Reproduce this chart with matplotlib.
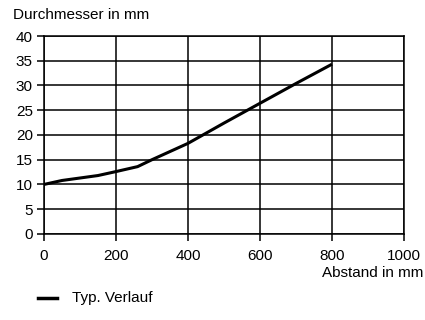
import matplotlib.pyplot as plt

plt.rcParams['font.family'] = ['Liberation Sans', 'DejaVu Sans']

# Abstand (mm) und Durchmesser (mm)
abstand = [0, 50, 150, 200, 260, 300, 400, 500, 600, 700, 800]
durchmesser = [10, 10.8, 11.8, 12.6, 13.6, 15, 18.3, 22.4, 26.4, 30.4, 34.3]
x_ticks = [0, 200, 400, 600, 800, 1000]
y_ticks = [0, 5, 10, 15, 20, 25, 30, 35, 40]

fig = plt.figure(figsize=(4.25, 3.2), dpi=100)
ax = fig.add_axes([0.1035, 0.269, 0.847, 0.6185])

ax.plot(abstand, durchmesser, color='black', lw=2.2, solid_capstyle='butt', zorder=3)

ax.set_xlim(0, 1000)
ax.set_ylim(0, 40)
ax.set_xticks(x_ticks)
ax.set_yticks(y_ticks)
ax.grid(True, color='black', lw=1.1)
for s in ax.spines.values():
    s.set_linewidth(1.1)
ax.tick_params(labelsize=11, length=5, width=1.1, color='black')
ax.tick_params(axis='x', pad=6)
ax.tick_params(axis='y', pad=3)

fig.text(13 / 425, 1 - 15 / 320, 'Durchmesser in mm', fontsize=11, ha='left', va='center')
fig.text(423 / 425, 1 - 273 / 320, 'Abstand in mm', fontsize=11, ha='right', va='center')

fig.add_artist(plt.Line2D([38 / 425, 57 / 425], [1 - 298 / 320] * 2, color='black', lw=2.5))
fig.text(72 / 425, 1 - 298 / 320, 'Typ. Verlauf', fontsize=11, ha='left', va='center')

fig.savefig('out.png', dpi=100)
